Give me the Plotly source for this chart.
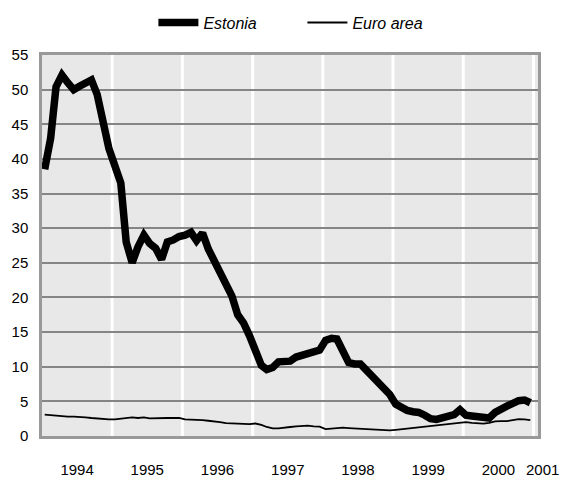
import pandas as pd
import plotly.graph_objects as go

# Monthly year-on-year inflation, Jan 1994 .. Dec 2000
months = pd.date_range("1994-01-01", periods=84, freq="MS") + pd.Timedelta(days=14)

estonia = [
    38.5, 43.0, 50.4, 52.1, 51.0, 50.0, 50.5, 51.0, 51.4, 49.3, 45.0, 41.5,
    39.0, 36.5, 28.0, 25.0, 27.3, 29.0, 27.8, 27.1, 25.5, 28.0, 28.3, 28.8,
    29.0, 29.4, 28.2, 29.3, 27.0, 25.2, 23.5, 22.2, 20.2, 17.5, 16.3, 14.5,
    12.2, 10.2, 9.6, 9.9, 10.7, 10.7, 10.8, 11.4, 11.6, 11.9, 12.2, 12.4,
    13.8, 14.1, 14.0, 12.0, 10.6, 10.4, 10.4, 9.5, 8.6, 7.8, 7.1, 6.0,
    4.6, 4.1, 3.7, 3.5, 3.4, 3.0, 2.5, 2.4, 2.6, 2.8, 3.1, 3.8,
    3.0, 2.9, 2.8, 2.7, 2.6, 3.4, 4.0, 4.3, 4.7, 5.1, 5.2, 4.8,
]

euro_area = [
    3.1, 3.0, 2.9, 2.9, 2.8, 2.8, 2.7, 2.7, 2.6, 2.5, 2.5, 2.4,
    2.4, 2.5, 2.6, 2.7, 2.6, 2.7, 2.55, 2.6, 2.6, 2.6, 2.6, 2.6,
    2.4, 2.4, 2.35, 2.3, 2.2, 2.15, 2.0, 1.85, 1.8, 1.8, 1.8, 1.7,
    1.8, 1.6, 1.3, 1.1, 1.1, 1.15, 1.3, 1.4, 1.45, 1.5, 1.4, 1.35,
    1.0, 1.1, 1.2, 1.2, 1.15, 1.1, 1.05, 0.95, 0.85, 0.8, 0.75, 0.8,
    0.9, 1.0, 1.1, 1.2, 1.3, 1.4, 1.5, 1.55, 1.65, 1.75, 1.8, 1.9,
    2.0, 1.9, 1.85, 1.8, 1.9, 2.1, 2.15, 2.15, 2.3, 2.45, 2.4, 2.3,
]

year_bounds = ["1995-01-01", "1996-01-01", "1997-01-01", "1998-01-01",
               "1999-01-01", "2000-01-01", "2001-01-01"]
last_year_label = "2001"

FONT = "Liberation Sans, Arial, sans-serif"

fig = go.Figure()
fig.add_trace(go.Scatter(x=months, y=estonia, mode="lines", name="Estonia",
                         line=dict(color="black", width=7.5)))
fig.add_trace(go.Scatter(x=months, y=euro_area, mode="lines", name="Euro area",
                         line=dict(color="black", width=1.8)))

for d in year_bounds:
    fig.add_shape(type="line", xref="x", yref="paper", x0=d, x1=d, y0=0, y1=1,
                  line=dict(color="white", width=3), layer="between")

fig.add_annotation(x=1.046, xref="paper", y=0, yref="paper", yshift=-33,
                   text=last_year_label, showarrow=False,
                   xanchor="right", yanchor="middle",
                   font=dict(family=FONT, size=15, color="black"))

# page body has an 8px margin, so the figure is 8px smaller and margins shifted
fig.update_layout(
    width=559, height=470,
    margin=dict(l=34, r=29, t=47, b=42, autoexpand=False),
    paper_bgcolor="white", plot_bgcolor="#e8e8e8",
    font=dict(family=FONT, size=15, color="black"),
    showlegend=True,
    legend=dict(orientation="h", x=0.525, xanchor="center", y=1.085, yanchor="middle",
                font=dict(family=FONT, size=16, style="italic"),
                entrywidth=94, itemwidth=40, bgcolor="rgba(0,0,0,0)"),
)
fig.update_xaxes(
    type="date", range=["1994-01-01", "2001-01-24"],
    dtick="M12", tick0="1994-01-01", tickformat="%Y", ticklabelmode="period",
    showgrid=False, ticks="outside", ticklen=18, tickcolor="rgba(0,0,0,0)",
    showline=True, linecolor="#999999", linewidth=2.5, mirror=True,
    zeroline=False,
)
fig.update_yaxes(
    range=[0, 55], dtick=5, tick0=0,
    showgrid=True, gridcolor="#858585", gridwidth=2,
    ticks="outside", ticklen=8, tickcolor="rgba(0,0,0,0)",
    showline=True, linecolor="#999999", linewidth=2.5, mirror=True,
    zeroline=False,
)

fig.write_html("out.html")
